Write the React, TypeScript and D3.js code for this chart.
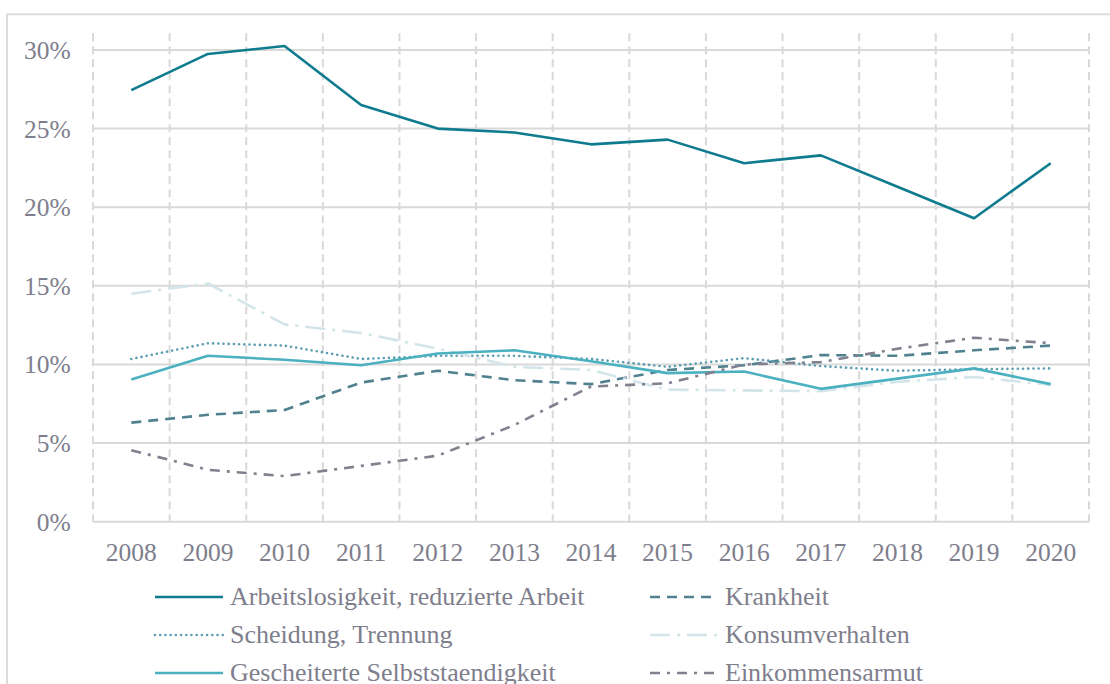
import React from "react";
import * as d3 from "d3";

const years = ["2008","2009","2010","2011","2012","2013","2014","2015","2016","2017","2018","2019","2020"];
const arbeitslosigkeit = [27.45, 29.75, 30.25, 26.5, 25.0, 24.75, 24.0, 24.3, 22.8, 23.3, 21.3, 19.3, 22.8];
const krankheit = [6.3, 6.8, 7.1, 8.85, 9.6, 9.0, 8.75, 9.65, 9.95, 10.6, 10.55, 10.9, 11.2];
const scheidung = [10.35, 11.35, 11.2, 10.35, 10.55, 10.55, 10.35, 9.85, 10.4, 9.9, 9.6, 9.7, 9.75];
const konsum = [14.5, 15.15, 12.55, 12.0, 11.0, 9.85, 9.65, 8.4, 8.35, 8.3, 8.9, 9.2, 8.7];
const gescheitert = [9.05, 10.55, 10.3, 9.95, 10.7, 10.9, 10.2, 9.45, 9.55, 8.45, 9.1, 9.75, 8.75];
const einkommen = [4.55, 3.3, 2.9, 3.55, 4.2, 6.15, 8.6, 8.8, 10.0, 10.15, 11.0, 11.7, 11.35];
const yTicks = [0, 5, 10, 15, 20, 25, 30];

const seriesNames = [
  "Arbeitslosigkeit, reduzierte Arbeit",
  "Krankheit",
  "Scheidung, Trennung",
  "Konsumverhalten",
  "Gescheiterte Selbststaendigkeit",
  "Einkommensarmut",
];
const seriesValues = [arbeitslosigkeit, krankheit, scheidung, konsum, gescheitert, einkommen];
const seriesStyles = [
  { color: "#0e7b8e", dash: "", cap: "butt" },
  { color: "#4f818f", dash: "10 7", cap: "butt" },
  { color: "#5a9db0", dash: "0.01 5.2", cap: "round" },
  { color: "#d3e5ea", dash: "20 7 3 7", cap: "butt" },
  { color: "#4bb0c0", dash: "", cap: "butt" },
  { color: "#80808f", dash: "10 7 3 7", cap: "butt" },
];

const TEXT = "#7e7e8c";
const GRID = "#d9d9d9";
const FONT = "'Liberation Serif', 'Times New Roman', serif";

export default function App() {
  const W = 1110, H = 684;
  const x = d3.scaleBand<string>().domain(years).range([93, 1089]).paddingInner(0).paddingOuter(0);
  const y = d3.scaleLinear().domain([0, 30]).range([521.7, 50]);
  const cx = (yr: string) => (x(yr) as number) + x.bandwidth() / 2;
  const line = d3.line<number>().x((_, i) => cx(years[i])).y((d) => y(d));
  const vLines = [...years.map((yr) => x(yr) as number), 1089];

  const legendRows = [597, 635, 673];
  const legendCols = [155, 650];

  return (
    <svg width={W} height={H} style={{ position: "absolute", left: 0, top: 0, background: "#fff" }} fontFamily={FONT}>
      <rect x={7} y={14.3} width={1200} height={800} fill="#fff" stroke="#dcdcdc" strokeWidth={2} />
      {yTicks.map((t) => (
        <line key={"h" + t} x1={93} x2={1089} y1={y(t)} y2={y(t)} stroke={GRID} strokeWidth={2} />
      ))}
      {vLines.map((vx, i) => (
        <line key={"v" + i} x1={vx} x2={vx} y1={33.3} y2={y(0)} stroke={GRID} strokeWidth={2} strokeDasharray="8 5" />
      ))}
      {yTicks.map((t) => (
        <text key={"yl" + t} x={70.7} y={y(t)} dy="0.35em" textAnchor="end" fontSize={25.5} fill={TEXT}>
          {t + "%"}
        </text>
      ))}
      {years.map((yr) => (
        <text key={"xl" + yr} x={cx(yr)} y={552} dy="0.35em" textAnchor="middle" fontSize={25.5} fill={TEXT}>
          {yr}
        </text>
      ))}
      {seriesValues.map((vals, i) => (
        <path
          key={"s" + i}
          d={line(vals) || ""}
          fill="none"
          stroke={seriesStyles[i].color}
          strokeWidth={2.6}
          strokeDasharray={seriesStyles[i].dash || undefined}
          strokeLinecap={seriesStyles[i].cap as any}
          strokeLinejoin="round"
        />
      ))}
      {seriesNames.map((name, i) => {
        const col = i % 2;
        const row = Math.floor(i / 2);
        const lx = legendCols[col];
        const ly = legendRows[row];
        const st = seriesStyles[i];
        return (
          <g key={"lg" + i}>
            <line
              x1={lx}
              x2={lx + 68}
              y1={ly}
              y2={ly}
              stroke={st.color}
              strokeWidth={2.6}
              strokeDasharray={st.dash || undefined}
              strokeLinecap={st.cap as any}
            />
            <text x={lx + 75} y={ly + 8} fontSize={26} fill={TEXT}>
              {name}
            </text>
          </g>
        );
      })}
    </svg>
  );
}
